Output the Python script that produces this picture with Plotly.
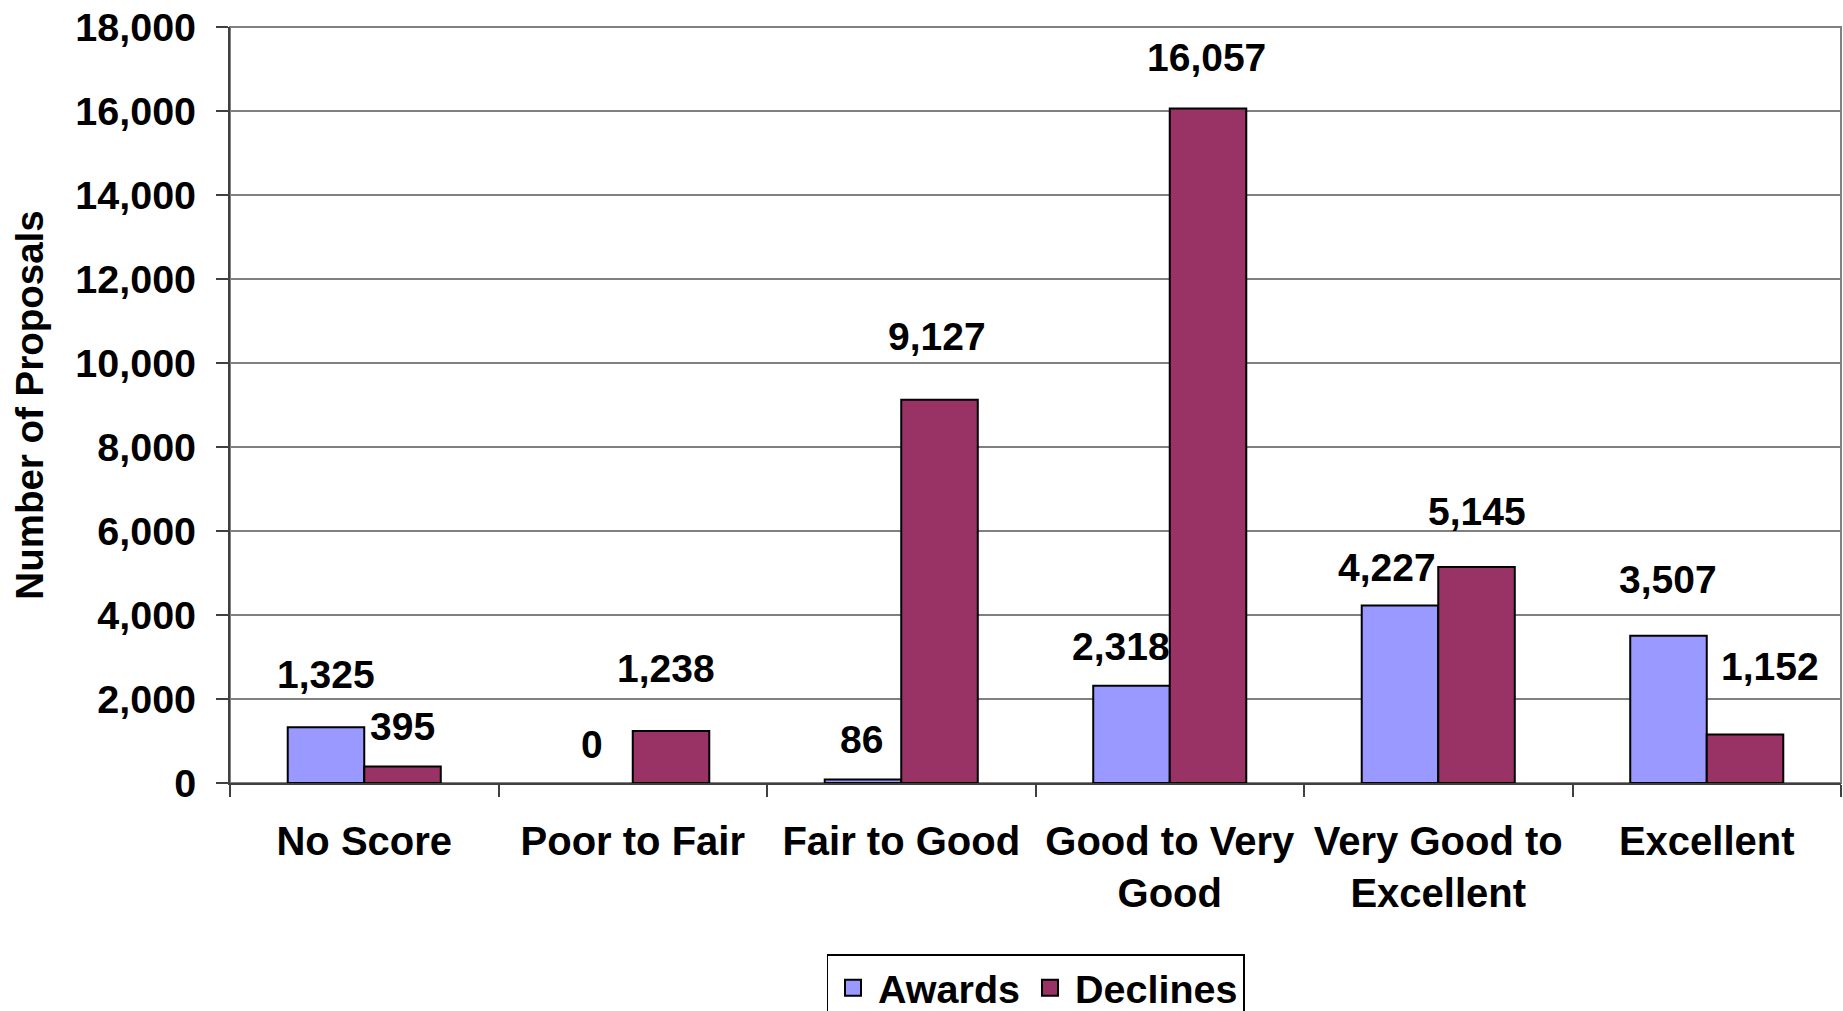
import plotly.graph_objects as go

categories = ["No Score", "Poor to Fair", "Fair to Good", "Good to Very<br>Good",
              "Very Good to<br>Excellent", "Excellent"]
awards = [1325, 0, 86, 2318, 4227, 3507]
declines = [395, 1238, 9127, 16057, 5145, 1152]
series_names = ["Awards", "Declines"]
y_ticks = [0, 2000, 4000, 6000, 8000, 10000, 12000, 14000, 16000, 18000]

# label offsets (style): pixels above bar top, horizontal nudge
award_dy = [53, 39, 40, 39, 38, 56]
award_dx = [0, -2, -1, -10, -13, 0]
decline_dy = [40, 63, 63, 51, 55, 68]
decline_dx = [0, -5, -3, -2, 0, 25]

colors = ["#9999FF", "#993366"]
FONT = "Liberation Sans, Arial, sans-serif"
FS = 39.5
BARGAP = 0.43
bw = (1 - BARGAP) / 2

fig = go.Figure()
for name, vals, col in [(series_names[0], awards, colors[0]), (series_names[1], declines, colors[1])]:
    fig.add_trace(go.Bar(
        x=categories, y=vals, name=name, showlegend=False,
        marker=dict(color=col, line=dict(color="#000000",
                                         width=[0 if v == 0 else 2 for v in vals])),
        hoverinfo="x+y+name",
    ))
# legend entries
for name, col in zip(series_names, colors):
    fig.add_trace(go.Scatter(
        x=[None], y=[None], mode="markers", name=name,
        marker=dict(symbol="square", size=16, color=col, line=dict(color="#000000", width=2)),
    ))

annotations = []
for k, (vals, dys, dxs) in enumerate([(awards, award_dy, award_dx), (declines, decline_dy, decline_dx)]):
    for i, v in enumerate(vals):
        annotations.append(dict(
            x=i + (k - 0.5) * bw, y=v, xref="x", yref="y",
            text=f"{v:,}", showarrow=False,
            xanchor="center", yanchor="middle",
            xshift=dxs[i], yshift=dys[i],
            font=dict(family=FONT, size=39, color="#000000", weight="bold"),
        ))

fig.update_layout(
    width=1843, height=1011,
    margin=dict(l=230, r=2, t=27, b=228),
    paper_bgcolor="#FFFFFF", plot_bgcolor="#FFFFFF",
    barmode="group", bargap=BARGAP, bargroupgap=0,
    font=dict(family=FONT, size=FS, color="#000000", weight="bold"),
    annotations=annotations,
    showlegend=True,
    legend=dict(
        orientation="h", x=0.5, xanchor="center", xref="paper",
        y=(1011 - 954) / 1011, yanchor="top", yref="container",
        bordercolor="#000000", borderwidth=1.5, bgcolor="#FFFFFF",
        font=dict(family=FONT, size=FS, color="#000000", weight="bold"),
        itemsizing="trace", itemwidth=40,
    ),
    shapes=[dict(type="rect", xref="paper", yref="paper", x0=0, x1=1, y0=0, y1=1,
                 line=dict(color="#808080", width=2), layer="below")],
)
fig.update_xaxes(
    type="category", showline=True, linecolor="#404040", linewidth=2,
    ticks="outside", ticklen=12, tickwidth=1.5, tickcolor="#404040",
    tickson="boundaries", showgrid=False, ticklabelstandoff=22, automargin=False,
    tickfont=dict(family=FONT, size=40, color="#000000", weight="bold"),
)
fig.update_yaxes(
    range=[0, 18000], tickvals=y_ticks, tickformat=",",
    showline=True, linecolor="#404040", linewidth=2,
    ticks="outside", ticklen=12, tickwidth=1.5, tickcolor="#404040",
    showgrid=True, gridcolor="#808080", gridwidth=1.5, zeroline=False,
    ticklabelstandoff=12, automargin=False,
    tickfont=dict(family=FONT, size=FS, color="#000000", weight="bold"),
    title=dict(text="Number of Proposals", standoff=20,
               font=dict(family=FONT, size=38.5, color="#000000", weight="bold")),
)

fig.write_html(
    "out.html",
    config={"displayModeBar": False},
    post_script="document.body.style.margin='0';document.body.style.overflow='hidden';",
)
